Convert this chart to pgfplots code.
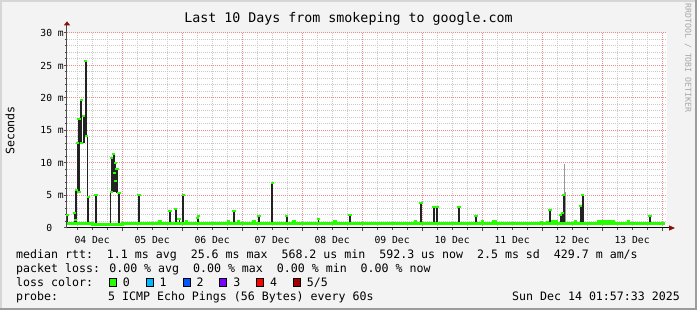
\documentclass[border=0pt]{standalone}
\usepackage{pgfplots}
\pgfplotsset{compat=1.18}
\usepackage{pgfplotstable}
\usepackage{fontspec}
\setmainfont{DejaVu Sans Mono}
\usetikzlibrary{arrows.meta}
\definecolor{bgc}{HTML}{F3F3F3}
\definecolor{shadea}{HTML}{D6D6D6}
\definecolor{shadeb}{HTML}{9C9C9C}
\definecolor{mgrid}{HTML}{F08C8C}
\definecolor{gridc}{HTML}{CACACA}
\definecolor{arrowc}{HTML}{8B0E0E}
\definecolor{med}{HTML}{26FF00}
\definecolor{smoke}{HTML}{222222}
\definecolor{lc1}{HTML}{00B8FF}
\definecolor{lc2}{HTML}{0059FF}
\definecolor{lc3}{HTML}{7E00FF}
\definecolor{lc4}{HTML}{FF0000}
\definecolor{lc5}{HTML}{A10000}

% x = hours since 04 Dec 00:00, y = milliseconds
\pgfplotstableread{
x y
1.96 0.7
12 0.6
23 0.6
24 0.75
241.16 0.75
}\baseline

\pgfplotstableread{
x y
2.1 0.8
2.1 2.0
nan nan
4.96 0.8
4.96 2.4
nan nan
5.68 0.8
5.68 5.9
nan nan
6.24 5.9
6.24 13.1
nan nan
6.72 5.6
6.72 16.7
nan nan
7.6 13.1
7.6 19.7
nan nan
8.56 13.1
8.56 17.2
nan nan
9.48 14.1
9.48 25.7
nan nan
10.48 0.7
10.48 4.8
nan nan
13.56 0.7
13.56 5.0
nan nan
19.84 5.6
19.84 10.7
nan nan
20.56 5.6
20.56 11.4
nan nan
21.28 5.6
21.28 10.0
nan nan
21.96 5.4
21.96 9.0
nan nan
22.76 0.5
22.76 5.4
nan nan
30.76 0.7
30.76 5.0
nan nan
43.16 0.7
43.16 2.6
nan nan
45.44 0.7
45.44 2.9
nan nan
48.48 0.7
48.48 5.0
nan nan
54.48 0.7
54.48 1.9
nan nan
68.76 0.7
68.76 2.6
nan nan
78.76 0.7
78.76 1.9
nan nan
84.08 0.7
84.08 6.9
nan nan
89.84 0.7
89.84 1.9
nan nan
115.16 0.7
115.16 2.0
nan nan
143.56 0.7
143.56 3.8
nan nan
148.76 0.7
148.76 3.2
nan nan
149.96 0.7
149.96 3.2
nan nan
158.76 0.7
158.76 3.2
nan nan
165.56 0.7
165.56 1.9
nan nan
195.16 0.7
195.16 2.7
nan nan
199.44 0.9
199.44 2.0
nan nan
200.08 0.7
200.08 2.3
nan nan
200.64 0.7
200.64 5.1
nan nan
207.44 0.8
207.44 3.4
nan nan
208.24 0.7
208.24 5.0
nan nan
235.16 0.7
235.16 1.9
}\thickbars

\pgfplotstableread{
x y
9.96 4.6
9.96 14.1
nan nan
19.36 0.7
19.36 5.6
nan nan
39.16 0.7
39.16 1.0
nan nan
46.76 0.7
46.76 1.4
nan nan
49.84 0.7
49.84 1.1
nan nan
66.48 0.7
66.48 1.0
nan nan
70.48 0.7
70.48 1.0
nan nan
76.76 0.7
76.76 1.0
nan nan
92.76 0.7
92.76 1.1
nan nan
102.56 0.7
102.56 1.4
nan nan
109.16 0.7
109.16 1.1
nan nan
141.44 0.7
141.44 1.1
nan nan
168.16 0.7
168.16 1.0
nan nan
172.56 0.7
172.56 1.0
nan nan
191.84 0.7
191.84 0.9
nan nan
194.08 0.7
194.08 0.9
nan nan
205.44 0.7
205.44 1.1
nan nan
226.48 0.7
226.48 1.1
}\thinbars

\pgfplotstableread{
x y
200.88 5.1
200.88 9.9
nan nan
201.3 0.6
201.3 5.6
}\greybars

\pgfplotstableread{
x y
2.1 2.0
4.96 2.3
5.2 1.3
5.68 5.9
6.24 13.1
6.72 16.7
6.72 5.6
7.6 19.7
7.8 13.1
8.56 17.2
9.48 25.7
9.9 14.1
10.48 4.8
13.56 5.0
19.84 10.7
19.6 5.6
20.56 11.4
20.9 8.5
21.28 10.0
21.4 7.2
21.96 9.0
22.76 5.4
30.76 5.0
39.16 1.0
43.16 2.6
45.44 2.9
46.76 1.4
48.48 5.0
49.84 1.1
54.2 1.5
54.48 1.9
66.48 1.0
68.76 2.6
70.48 1.0
76.76 1.0
78.76 1.9
84.08 6.9
89.84 1.9
92.76 1.1
102.56 1.4
109.16 1.1
115.16 2.0
141.44 1.1
143.56 3.8
148.76 3.2
149.96 3.2
158.76 3.2
165.56 1.9
168.16 1.0
172.56 1.0
173.16 1.0
191.84 0.9
194.08 0.9
195.16 2.7
196.36 1.0
197.56 1.0
199.44 2.0
200.08 2.3
200.64 5.1
205.44 1.1
207.44 3.4
208.24 5.0
214.76 1.1
216.36 1.0
217.56 1.1
219.16 1.0
220.36 1.0
226.48 1.1
235.16 1.9
}\medmarks

\begin{document}
\begin{tikzpicture}[x=1pt,y=1pt]
\useasboundingbox (0,0) rectangle (697,310);
\fill[bgc] (0,0) rectangle (697,310);
\fill[shadea] (0,308) rectangle (697,310);
\fill[shadea] (0,0) rectangle (2,310);
\fill[shadeb] (0,0) rectangle (697,2);
\fill[shadeb] (695,0) rectangle (697,310);

\begin{axis}[
  at={(67pt,82pt)}, anchor=south west,
  scale only axis, width=600pt, height=195pt,
  xmin=1.959, xmax=241.959, ymin=0, ymax=30,
  axis background/.style={fill=white},
  axis x line=bottom, axis y line=left,
  x axis line style={black, line width=1pt, -{Triangle[length=6pt,width=5pt,color=arrowc]}, shorten >=-8pt},
  y axis line style={black!70, line width=1pt, -{Triangle[length=4pt,width=6pt,color=arrowc]}, shorten >=-11.7pt},
  xtick={24,48,...,240}, xticklabels={},
  minor xtick={6,12,...,240},
  extra x ticks={12,36,...,228},
  extra x tick labels={04 Dec,05 Dec,06 Dec,07 Dec,08 Dec,09 Dec,10 Dec,11 Dec,12 Dec,13 Dec},
  extra x tick style={grid=none, major tick length=0pt},
  ytick={0,5,...,30},
  yticklabels={0\phantom{\ m},5 m,10 m,15 m,20 m,25 m,30 m},
  minor ytick={0,1,...,30},
  grid=both,
  major grid style={mgrid, line width=1pt, dash pattern=on 1pt off 1pt},
  minor grid style={gridc, line width=1pt, dash pattern=on 1pt off 1pt},
  tick align=outside, major tick length=3pt, minor tick length=2pt,
  tick style={black!70, line width=1pt},
  tick label style={font=\fontsize{9.7}{11}\selectfont},
  yticklabel style={inner sep=0pt},
  xticklabel style={inner sep=0pt, yshift=-8pt},
  /pgf/number format/assume math mode=true,
  unbounded coords=jump,
]
\addplot[smoke, line width=2pt] table {\thickbars};
\addplot[smoke, line width=1pt] table {\thinbars};
\addplot[black!40, line width=1.2pt] table {\greybars};
\addplot[med, line width=3pt, const plot] table {\baseline};
\addplot[only marks, mark=-, mark size=1.6pt, mark options={med, line width=2pt}] table {\medmarks};
\end{axis}

\node[font=\fontsize{13.3}{15}\selectfont] at (348.5,291) {Last 10 Days from smokeping to google.com};
\node[rotate=90, font=\fontsize{11.6}{13}\selectfont] at (10,179.5) {Seconds};
\node[rotate=-90, font=\fontsize{8.2}{9}\selectfont, text=black!35] at (688,252) {RRDTOOL / TOBI OETIKER};

\begin{scope}[every node/.style={font=\fontsize{11.6}{14}\selectfont, inner sep=0pt, anchor=base west}]
\node at (16,51.1) {median rtt:\ \ 1.1 ms avg\ \ 25.6 ms max\ \ 568.2 us min\ \ 592.3 us now\ \ 2.5 ms sd\ \ 429.7 m am/s};
\node at (16,37.5) {packet loss: 0.00 \% avg\ \ 0.00 \% max\ \ 0.00 \% min\ \ 0.00 \% now};
\node at (16,23.5) {loss color:};
\node at (16,9.1) {probe:};
\node at (108,9.1) {5 ICMP Echo Pings (56 Bytes) every 60s};
\node[anchor=base east] at (680,9.1) {Sun Dec 14 01:57:33 2025};
\node at (122.7,23.5) {0};
\node at (159.5,23.5) {1};
\node at (196.3,23.5) {2};
\node at (233.1,23.5) {3};
\node at (269.9,23.5) {4};
\node at (306.7,23.5) {5/5};
\end{scope}
\begin{scope}[line width=0.8pt]
\filldraw[fill=med, draw=black] (109.3,23.9) rectangle (116.3,31.3);
\filldraw[fill=lc1, draw=black] (146.1,23.9) rectangle (153.1,31.3);
\filldraw[fill=lc2, draw=black] (182.9,23.9) rectangle (189.9,31.3);
\filldraw[fill=lc3, draw=black] (219.7,23.9) rectangle (226.7,31.3);
\filldraw[fill=lc4, draw=black] (256.5,23.9) rectangle (263.5,31.3);
\filldraw[fill=lc5, draw=black] (293.3,23.9) rectangle (300.3,31.3);
\end{scope}
\end{tikzpicture}
\end{document}
